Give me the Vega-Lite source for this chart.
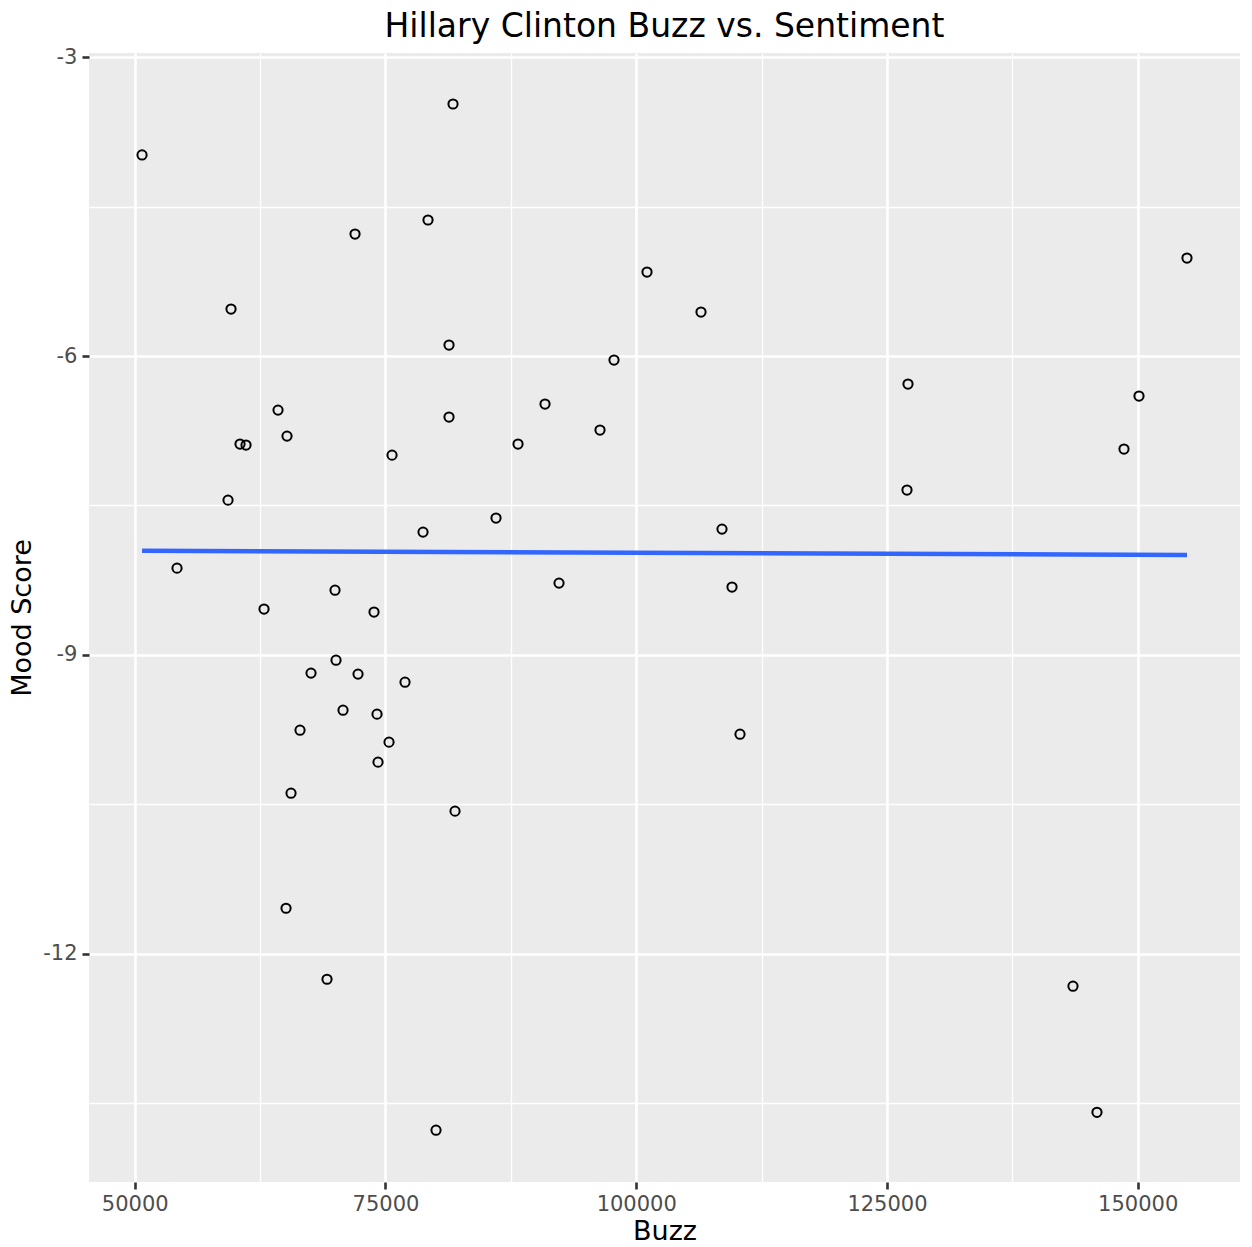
{
  "$schema": "https://vega.github.io/schema/vega-lite/v6.json",
  "autosize": {"type": "none"},
  "padding": {"left": 89, "top": 53, "right": 12, "bottom": 65},
  "width": 1151,
  "height": 1129,
  "background": "white",
  "title": {
    "text": "Hillary Clinton Buzz vs. Sentiment",
    "anchor": "middle",
    "frame": "group",
    "font": "DejaVu Sans",
    "fontSize": 33,
    "fontWeight": "normal",
    "color": "#000000",
    "baseline": "bottom",
    "offset": 0,
    "dy": 31
  },
  "config": {
    "view": {"fill": "#EBEBEB", "stroke": null},
    "font": "DejaVu Sans",
    "axis": {
      "domain": false,
      "gridColor": "#FFFFFF",
      "tickColor": "#333333",
      "tickWidth": 2.6,
      "tickSize": 7,
      "labelFont": "DejaVu Sans",
      "labelFontSize": 21,
      "labelColor": "#4D4D4D",
      "titleFont": "DejaVu Sans",
      "titleFontSize": 27,
      "titleFontWeight": "normal",
      "titleColor": "#000000",
      "labelFlush": false,
      "labelOverlap": false
    }
  },
  "data": {
    "values": [
      {"Buzz": 50728, "Mood": -3.981},
      {"Buzz": 81735, "Mood": -3.469},
      {"Buzz": 79242, "Mood": -4.634},
      {"Buzz": 71964, "Mood": -4.775},
      {"Buzz": 101076, "Mood": -5.157},
      {"Buzz": 154914, "Mood": -5.016},
      {"Buzz": 59601, "Mood": -5.528},
      {"Buzz": 106460, "Mood": -5.558},
      {"Buzz": 81336, "Mood": -5.890},
      {"Buzz": 97786, "Mood": -6.040},
      {"Buzz": 127098, "Mood": -6.281},
      {"Buzz": 150129, "Mood": -6.402},
      {"Buzz": 64287, "Mood": -6.543},
      {"Buzz": 90907, "Mood": -6.482},
      {"Buzz": 81336, "Mood": -6.613},
      {"Buzz": 65184, "Mood": -6.804},
      {"Buzz": 96390, "Mood": -6.743},
      {"Buzz": 60498, "Mood": -6.884},
      {"Buzz": 61097, "Mood": -6.894},
      {"Buzz": 88215, "Mood": -6.884},
      {"Buzz": 75653, "Mood": -6.995},
      {"Buzz": 148633, "Mood": -6.934},
      {"Buzz": 59302, "Mood": -7.447},
      {"Buzz": 126998, "Mood": -7.346},
      {"Buzz": 86022, "Mood": -7.627},
      {"Buzz": 78744, "Mood": -7.768},
      {"Buzz": 108554, "Mood": -7.738},
      {"Buzz": 54217, "Mood": -8.130},
      {"Buzz": 92303, "Mood": -8.280},
      {"Buzz": 69970, "Mood": -8.351},
      {"Buzz": 109551, "Mood": -8.320},
      {"Buzz": 62891, "Mood": -8.541},
      {"Buzz": 73858, "Mood": -8.571},
      {"Buzz": 70070, "Mood": -9.054},
      {"Buzz": 67577, "Mood": -9.184},
      {"Buzz": 72263, "Mood": -9.194},
      {"Buzz": 76949, "Mood": -9.275},
      {"Buzz": 70768, "Mood": -9.556},
      {"Buzz": 74157, "Mood": -9.596},
      {"Buzz": 66480, "Mood": -9.757},
      {"Buzz": 110348, "Mood": -9.797},
      {"Buzz": 75354, "Mood": -9.877},
      {"Buzz": 74257, "Mood": -10.078},
      {"Buzz": 65583, "Mood": -10.390},
      {"Buzz": 81934, "Mood": -10.570},
      {"Buzz": 65085, "Mood": -11.545},
      {"Buzz": 69172, "Mood": -12.258},
      {"Buzz": 143548, "Mood": -12.328},
      {"Buzz": 145941, "Mood": -13.594},
      {"Buzz": 80040, "Mood": -13.774}
    ]
  },
  "encoding": {
    "x": {
      "field": "Buzz",
      "type": "quantitative",
      "scale": {"domain": [45440, 160200], "nice": false, "zero": false},
      "axis": {
        "title": "Buzz",
        "values": [50000, 62500, 75000, 87500, 100000, 112500, 125000, 137500, 150000],
        "labelExpr": "datum.value % 25000 === 0 ? '' + datum.value : ''",
        "gridWidth": {"condition": {"test": "datum.value % 25000 !== 0", "value": 1.3}, "value": 2.6},
        "tickOpacity": {"condition": {"test": "datum.value % 25000 !== 0", "value": 0}, "value": 1},
        "labelPadding": 4,
        "titlePadding": 4
      }
    },
    "y": {
      "field": "Mood",
      "type": "quantitative",
      "scale": {"domain": [-14.294, -2.957], "nice": false, "zero": false},
      "axis": {
        "title": "Mood Score",
        "values": [-3, -4.5, -6, -7.5, -9, -10.5, -12, -13.5],
        "labelExpr": "datum.value % 3 === 0 ? '' + datum.value : ''",
        "gridWidth": {"condition": {"test": "datum.value % 3 !== 0", "value": 1.3}, "value": 2.6},
        "tickOpacity": {"condition": {"test": "datum.value % 3 !== 0", "value": 0}, "value": 1},
        "labelPadding": 5,
        "titlePadding": 6
      }
    }
  },
  "layer": [
    {
      "mark": {"type": "point", "shape": "circle", "filled": false, "stroke": "#000000", "strokeWidth": 2, "size": 85, "opacity": 1}
    },
    {
      "transform": [{"regression": "Mood", "on": "Buzz", "method": "linear"}],
      "mark": {"type": "line", "color": "#3366FF", "strokeWidth": 4.5}
    }
  ]
}
